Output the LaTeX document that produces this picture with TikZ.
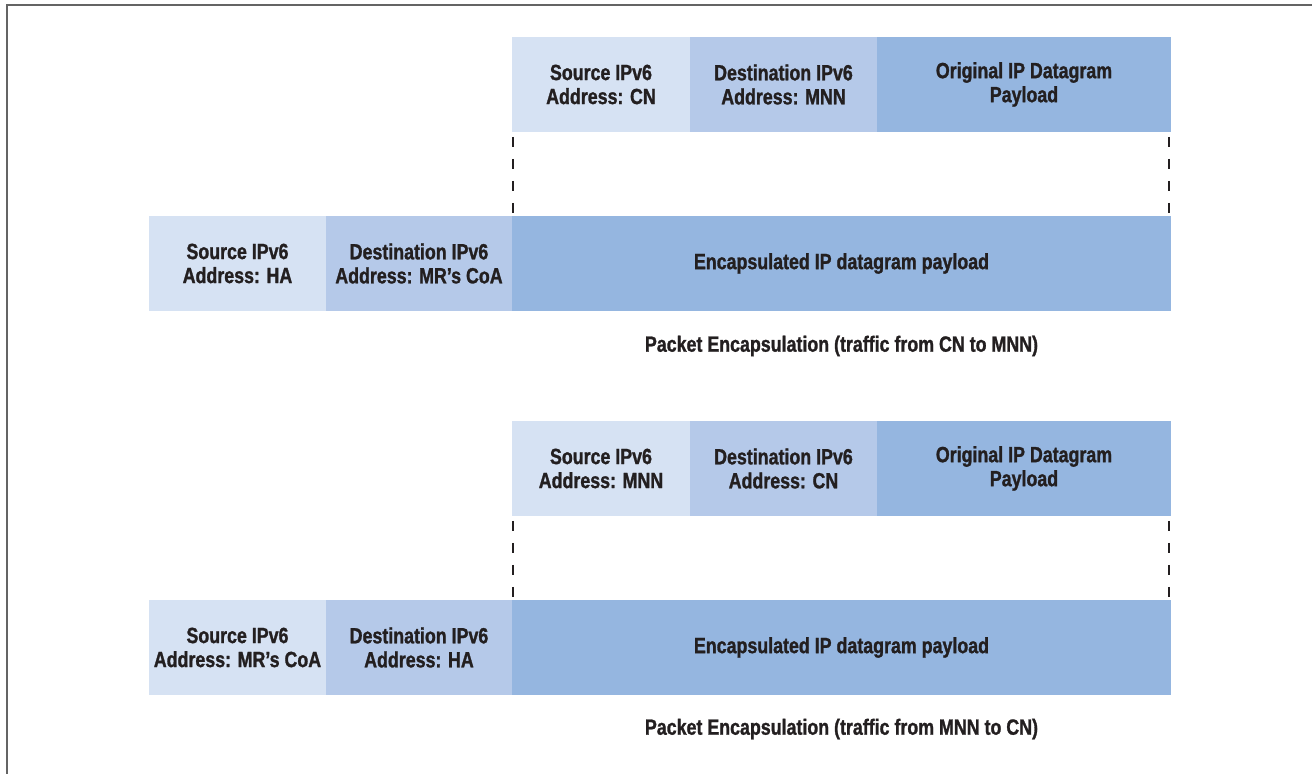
\documentclass[tikz,border=0pt]{standalone}
\usepackage{fontspec}
\newfontfamily\pktfont[FakeStretch=0.81,BoldFeatures={FakeBold=1.2}]{Liberation Sans}
\usetikzlibrary{positioning}
\definecolor{srcblue}{RGB}{214,226,243}
\definecolor{dstblue}{RGB}{181,201,233}
\definecolor{payblue}{RGB}{149,182,224}
\definecolor{framegray}{RGB}{100,100,100}
\definecolor{ink}{RGB}{35,31,32}

\begin{document}
\begin{tikzpicture}[x=0.5pt,y=-0.5pt,node distance=0pt,
	field/.style={rectangle,inner sep=0pt,outer sep=0pt,minimum height=47.5pt,align=center,
		font={\pktfont\bfseries\fontsize{11}{12}\selectfont},text=ink},
	src/.style={field,fill=srcblue},
	dst/.style={field,fill=dstblue},
	pay/.style={field,fill=payblue},
	caption/.style={inner sep=0pt,font={\pktfont\bfseries\fontsize{11}{12}\selectfont},text=ink},
	guide/.style={draw=ink,line width=1pt,dash pattern=on 5pt off 6pt,shorten <=2.5pt,shorten >=1.5pt}]
	\useasboundingbox (0,0) rectangle (1312,774);
	\draw[framegray,line width=1.2pt] (7,774) -- (7,5) -- (1312,5);
	% traffic from CN to MNN
	\node[src,minimum width=89pt,anchor=north west] (s1) at (512,37) {Source IPv6\\Address: CN};
	\node[dst,minimum width=93.5pt,right=of s1] (d1) {Destination IPv6\\Address: MNN};
	\node[pay,minimum width=147pt,right=of d1] (p1) {Original IP Datagram\\Payload};
	\node[pay,minimum width=329.5pt,anchor=north west] (e1) at ([yshift=-42pt]s1.south west) {Encapsulated IP datagram payload};
	\node[dst,minimum width=93pt,left=of e1] (d2) {Destination IPv6\\Address: MR’s CoA};
	\node[src,minimum width=88.5pt,left=of d2] (s2) {Source IPv6\\Address: HA};
	\node[caption] (c1) at ([yshift=-17.5pt]e1.south) {Packet Encapsulation (traffic from CN to MNN)};
	\draw[guide] ([xshift=0.5pt]s1.south west) -- ([xshift=0.5pt]e1.north west);
	\draw[guide] ([xshift=-1pt]p1.south east) -- ([xshift=-1pt]e1.north east);
	% traffic from MNN to CN
	\node[src,minimum width=89pt,anchor=north west] (s3) at ([yshift=-55pt]e1.south west) {Source IPv6\\Address: MNN};
	\node[dst,minimum width=93.5pt,right=of s3] (d3) {Destination IPv6\\Address: CN};
	\node[pay,minimum width=147pt,right=of d3] (p3) {Original IP Datagram\\Payload};
	\node[pay,minimum width=329.5pt,anchor=north west] (e2) at ([yshift=-42pt]s3.south west) {Encapsulated IP datagram payload};
	\node[dst,minimum width=93pt,left=of e2] (d4) {Destination IPv6\\Address: HA};
	\node[src,minimum width=88.5pt,left=of d4] (s4) {Source IPv6\\Address: MR’s CoA};
	\node[caption] (c2) at ([yshift=-17pt]e2.south) {Packet Encapsulation (traffic from MNN to CN)};
	\draw[guide] ([xshift=0.5pt]s3.south west) -- ([xshift=0.5pt]e2.north west);
	\draw[guide] ([xshift=-1pt]p3.south east) -- ([xshift=-1pt]e2.north east);
\end{tikzpicture}
\end{document}
